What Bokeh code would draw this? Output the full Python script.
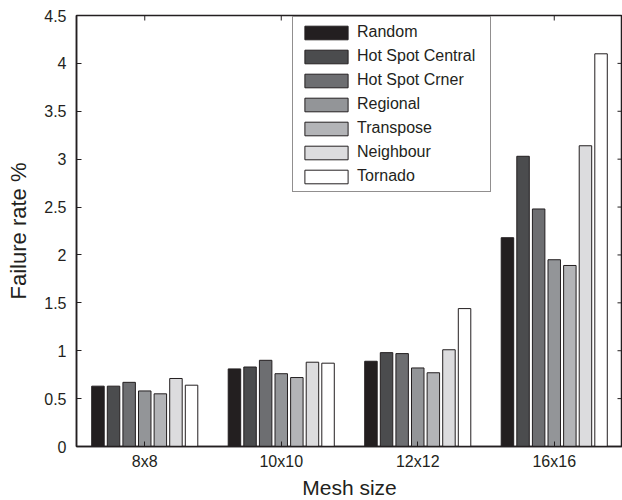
import math

from bokeh.plotting import figure
from bokeh.models import Range1d, FixedTicker, Legend, LegendItem
from bokeh.embed import file_html
from bokeh.resources import INLINE

# Failure rate (%) per mesh size for each traffic pattern
categories = ["8x8", "10x10", "12x12", "16x16"]
series_names = ["Random", "Hot Spot Central", "Hot Spot Crner", "Regional",
                "Transpose", "Neighbour", "Tornado"]
random_rate = [0.63, 0.81, 0.89, 2.18]
hot_spot_central = [0.63, 0.83, 0.98, 3.03]
hot_spot_corner = [0.67, 0.90, 0.97, 2.48]
regional = [0.58, 0.76, 0.82, 1.95]
transpose = [0.55, 0.72, 0.77, 1.89]
neighbour = [0.71, 0.88, 1.01, 3.14]
tornado = [0.64, 0.87, 1.44, 4.10]
series_values = [random_rate, hot_spot_central, hot_spot_corner, regional,
                 transpose, neighbour, tornado]
colors = ["#231f20", "#4b4c4e", "#6d6e71", "#939598", "#b3b4b7", "#dcdcde", "#ffffff"]

y_ticks = [0, 0.5, 1, 1.5, 2, 2.5, 3, 3.5, 4, 4.5]
y_tick_labels = ["0", "0.5", "1", "1.5", "2", "2.5", "3", "3.5", "4", "4.5"]

FONT = "Liberation Sans"
INK = "#231f20"
X_MIN, X_MAX = 0.5, 4.5
Y_MIN, Y_MAX = 0, 4.5

p = figure(frame_width=546, frame_height=431,
           x_range=Range1d(X_MIN, X_MAX), y_range=Range1d(Y_MIN, Y_MAX),
           output_backend="svg", toolbar_location=None,
           min_border_left=76, min_border_right=0, min_border_top=15, min_border_bottom=54)
# boxed axes
p.outline_line_color = INK
p.outline_line_width = 1.5
p.grid.visible = False
p.background_fill_color = "white"

# grouped bars: 7 bars within 0.8 of each category slot
n = len(series_names)
slot = 0.8 / n
group_x = [i + 1 for i in range(len(categories))]
renderers = []
for j, (vals, col) in enumerate(zip(series_values, colors)):
    xs = [g + (j - (n - 1) / 2) * slot for g in group_x]
    r = p.vbar(x=xs, top=vals, bottom=0, width=slot * 0.8,
               fill_color=col, line_color=INK, line_width=1)
    renderers.append(r)

# mirrored inward tick marks on the top and right edges (half of each dash is clipped by the frame)
p.scatter(x=group_x, y=[Y_MAX] * len(group_x), marker="dash", angle=math.pi / 2,
          size=10, line_color=INK, line_width=1)
p.scatter(x=[X_MAX] * len(y_ticks), y=y_ticks, marker="dash",
          size=10, line_color=INK, line_width=1)

def style_axis(ax):
    ax.axis_line_color = INK
    ax.axis_line_width = 1.5
    ax.major_tick_line_color = INK
    ax.major_tick_line_width = 1
    ax.major_tick_in = 5
    ax.major_tick_out = 0
    ax.minor_tick_line_color = None
    ax.major_label_text_font = FONT
    ax.major_label_text_font_size = "16px"
    ax.major_label_text_color = INK
    ax.axis_label_text_font = FONT
    ax.axis_label_text_font_style = "normal"
    ax.axis_label_text_color = INK

xax = p.xaxis[0]
style_axis(xax)
xax.ticker = FixedTicker(ticks=group_x)
xax.major_label_overrides = {g: c for g, c in zip(group_x, categories)}
xax.major_label_standoff = 6
xax.axis_label = "Mesh size"
xax.axis_label_text_font_size = "21px"
xax.axis_label_standoff = 3

yax = p.yaxis[0]
style_axis(yax)
yax.ticker = FixedTicker(ticks=y_ticks)
yax.major_label_overrides = {t: s for t, s in zip(y_ticks, y_tick_labels)}
yax.major_label_standoff = 10
yax.axis_label = "Failure rate %"
yax.axis_label_text_font_size = "22px"
yax.axis_label_standoff = 10

legend = Legend(
    items=[LegendItem(label=name, renderers=[r]) for name, r in zip(series_names, renderers)],
    location=(216, 254),
    border_line_color=INK, border_line_width=1.5,
    background_fill_color="white", background_fill_alpha=1.0,
    glyph_width=54, glyph_height=17, label_height=17, label_width=127,
    spacing=6, padding=6, margin=0, label_standoff=4,
    label_text_font=FONT, label_text_font_size="16px", label_text_color=INK,
)
p.add_layout(legend)

open("out.html", "w").write(file_html(p, INLINE))
